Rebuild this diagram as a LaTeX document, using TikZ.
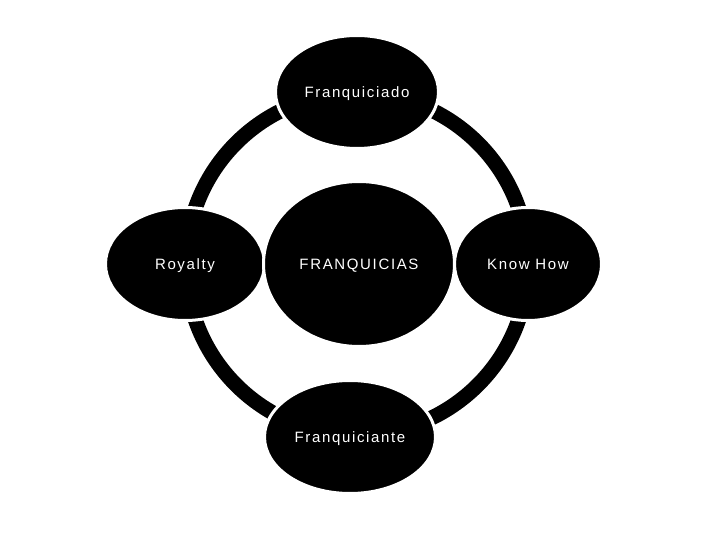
\documentclass[tikz,border=0pt]{standalone}
\usepackage{fontspec}
\setmainfont{Liberation Sans}[LetterSpace=11]
\usetikzlibrary{shapes.geometric}
\begin{document}
\begin{tikzpicture}[x=1pt,y=-1pt,
  blob/.style={ellipse, fill=black, draw=white, line width=3pt, inner sep=0pt,
    text=white, font=\fontsize{15pt}{17pt}\selectfont, text height=10.7pt, text depth=0pt},
  ringline/.style={draw=black, line width=15pt}]
  \useasboundingbox (0,0) rectangle (720,540);
  \coordinate (o) at (357,264);
  \draw[ringline] (o) circle[radius=171pt];
  \node[blob, minimum width=163pt, minimum height=113pt] (top) at (357,92) {Franquiciado};
  \node[blob, minimum width=171pt, minimum height=113pt] (bottom) at (350,437) {Franquiciante};
  \node[blob, minimum width=159pt, minimum height=113pt] (royalty) at (185,264) {Royalty};
  \node[blob, minimum width=147pt, minimum height=113pt] (know) at (528,264) {Know How};
  \node[blob, minimum width=191pt, minimum height=165pt] (center) at (359,264) {FRANQUICIAS};
\end{tikzpicture}
\end{document}
